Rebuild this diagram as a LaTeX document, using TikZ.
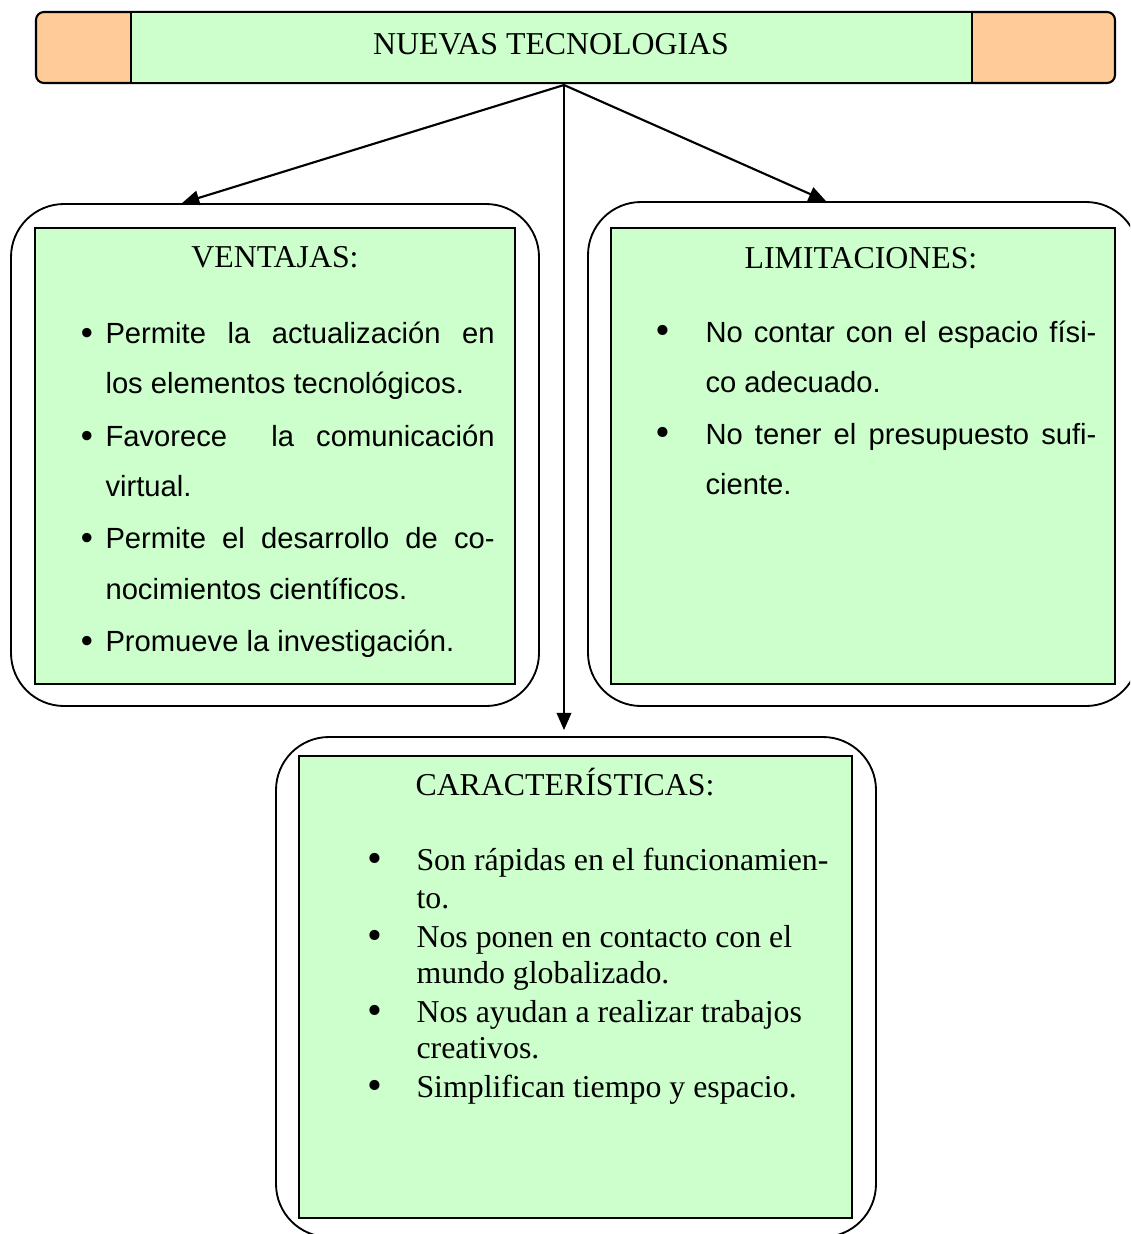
\documentclass[tikz,border=0pt]{standalone}
\usepackage{fontspec}
\setmainfont{Liberation Serif}
\newfontfamily\arial{Liberation Sans}
\usetikzlibrary{arrows.meta,fit,calc}

\definecolor{verde}{HTML}{CCFFCC}
\definecolor{naranja}{HTML}{FFCC99}

\tikzset{
  marco/.style={draw, line width=0.7pt, rounded corners=20pt, inner sep=0pt},
  caja/.style={draw, fill=verde, line width=0.8pt, inner sep=0pt},
  flecha/.style={line width=0.8pt, -{Triangle[length=6.5pt,width=5.5pt]}},
  txt/.style={inner sep=0pt, anchor=base west},
  punto/.style={inner sep=0pt, anchor=base},
  sans/.style={font=\arial\fontsize{11}{13}\selectfont},
  serif/.style={font=\fontsize{12}{14}\selectfont},
  gpunto/.style={punto, font=\fontsize{16}{18}\selectfont},
  vpunto/.style={punto, font=\arial\fontsize{13}{15}\selectfont},
}

\begin{document}
\begin{tikzpicture}[x=0.377pt,y=-0.377pt]
   \useasboundingbox (0,0) rectangle (1130,1234);
   \clip (0,0) rectangle (1130,1234);
   % Title bar
   \node[fit={(36,12) (1115,83)}, draw, fill=naranja, rounded corners=3pt, inner sep=0pt, line width=0.8pt] (barra) {};
   \node[caja, fit={(131,12) (972,83)}] (centro) {};
   \node[punto, serif] (titulo) at (551,54) {NUEVAS TECNOLOGIAS};
   % Frames
   \node[marco, fit={(11,204) (539,706)}] (ventajas) {};
   \node[caja, fit={(35,228) (515,684)}] (ventajasin) {};
   \node[marco, fit={(588,202) (1139,706)}] (limites) {};
   \node[caja, fit={(611,228) (1115,684)}] (limitesin) {};
   \node[marco, fit={(276,737) (876,1237)}] (caract) {};
   \node[caja, fit={(299,756) (852,1218)}] (caractin) {};
   % Arrows
   \coordinate (raiz) at (564,85);
   \draw[flecha] (raiz) -- ($(ventajas.north)+(-93,0)$);
   \draw[flecha] (raiz) -- ($(limites.north)+(-37.5,0)$);
   \draw[flecha] (raiz) -- ($(caract.north)+(-12,-6)$);
   % Ventajas
   \node[punto, serif] (vtit) at (275,267) {VENTAJAS:};
   \node[vpunto] (vb1) at (87,344) {\textbullet};
   \node[txt, sans] (v1a) at (105,343) {\makebox[146.7pt][s]{Permite la actualización en}};
   \node[txt, sans] (v1b) at (105,393) {los elementos tecnológicos.};
   \node[vpunto] (vb2) at (87,447) {\textbullet};
   \node[txt, sans] (v2a) at (105,446) {\makebox[146.7pt][s]{Favorece\ \ la comunicación}};
   \node[txt, sans] (v2b) at (105,496) {virtual.};
   \node[vpunto] (vb3) at (87,549) {\textbullet};
   \node[txt, sans] (v3a) at (105,548) {\makebox[146.7pt][s]{Permite el desarrollo de co-}};
   \node[txt, sans] (v3b) at (105,599) {nocimientos científicos.};
   \node[vpunto] (vb4) at (87,652) {\textbullet};
   \node[txt, sans] (v4a) at (105,651) {Promueve la investigación.};
   % Limitaciones
   \node[punto, serif] (ltit) at (861,268) {LIMITACIONES:};
   \node[gpunto] (lb1) at (663,344) {\textbullet};
   \node[txt, sans] (l1a) at (705,342) {\makebox[147.4pt][s]{No contar con el espacio físi-}};
   \node[txt, sans] (l1b) at (705,392) {co adecuado.};
   \node[gpunto] (lb2) at (663,446) {\textbullet};
   \node[txt, sans] (l2a) at (705,444) {\makebox[147.4pt][s]{No tener el presupuesto sufi-}};
   \node[txt, sans] (l2b) at (705,494) {ciente.};
   % Caracteristicas
   \node[txt, serif] (ctit) at (415,795) {CARACTERÍSTICAS:};
   \node[gpunto] (cb1) at (375,872) {\textbullet};
   \node[txt, serif] (c1a) at (416,870) {Son rápidas en el funcionamien-};
   \node[txt, serif] (c1b) at (416,908) {to.};
   \node[gpunto] (cb2) at (375,949) {\textbullet};
   \node[txt, serif] (c2a) at (416,947) {Nos ponen en contacto con el};
   \node[txt, serif] (c2b) at (416,983) {mundo globalizado.};
   \node[gpunto] (cb3) at (375,1024) {\textbullet};
   \node[txt, serif] (c3a) at (416,1022) {Nos ayudan a realizar trabajos};
   \node[txt, serif] (c3b) at (416,1058) {creativos.};
   \node[gpunto] (cb4) at (375,1099) {\textbullet};
   \node[txt, serif] (c4a) at (416,1097) {Simplifican tiempo y espacio.};
\end{tikzpicture}
\end{document}
